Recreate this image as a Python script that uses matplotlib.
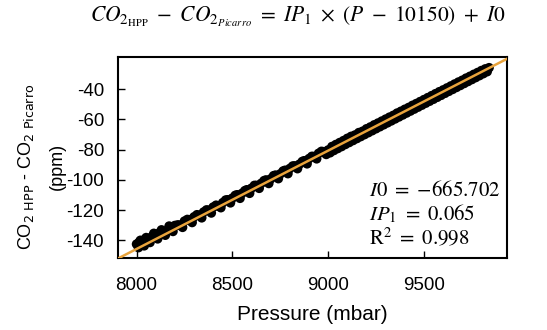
import matplotlib
matplotlib.use("Agg")
import matplotlib.pyplot as plt
import numpy as np

# Data
pressure_a = [8000, 8015, 8030, 8045, 8060, 8080, 8100, 8120, 8140, 8160, 8180, 8200, 8225, 8250, 8275,
              8300, 8325, 8350, 8375, 8400, 8425, 8450, 8475, 8500, 8525, 8550, 8575, 8600, 8625, 8650,
              8675, 8700, 8725, 8750, 8775, 8800, 8825, 8850, 8875, 8900, 8925, 8950, 8975, 9000, 9020,
              9040, 9060, 9080, 9100, 9120, 9140, 9160, 9180, 9200, 9220, 9240, 9260, 9280, 9300, 9320,
              9340, 9360, 9380, 9400, 9420, 9440, 9460, 9480, 9500, 9520, 9540, 9560, 9580, 9600, 9620,
              9640, 9660, 9680, 9700, 9720, 9740, 9760, 9780, 9800, 9820, 9840]
diff_a = [-142.5, -141.0, -140.2, -139.5, -138.9, -137.6, -136.1, -135.0, -134.2, -133.5, -131.6, -130.2,
          -130.0, -127.3, -126.4, -124.5, -123.4, -121.3, -120.1, -118.0, -117.4, -115.1, -113.2, -112.1,
          -109.9, -109.0, -106.6, -105.5, -103.7, -102.4, -100.1, -99.4, -96.9, -96.1, -93.7, -92.5, -90.8,
          -89.7, -87.4, -86.0, -84.6, -82.5, -81.4, -80.3, -78.0, -76.7, -75.4, -74.1, -72.6, -71.3, -70.4,
          -68.8, -67.9, -66.3, -65.1, -63.7, -62.5, -61.2, -59.9, -58.6, -57.4, -55.9, -54.7, -53.4, -52.2,
          -50.8, -49.6, -48.3, -47.0, -45.7, -44.4, -43.1, -41.8, -40.6, -39.3, -38.0, -36.7, -35.4, -34.2,
          -32.8, -31.6, -30.3, -29.1, -27.8, -26.7, -25.9]
pressure_b = [8010, 8040, 8070, 8110, 8150, 8190, 8240, 8290, 8340, 8390, 8440, 8490, 8540, 8590, 8640,
              8690, 8740, 8790, 8840, 8890, 8940, 8990, 9010, 9030, 9050, 9070, 9090, 9110, 9130, 9150,
              9170, 9190, 9210, 9230, 9250, 9270, 9290, 9310, 9330, 9350, 9370, 9390, 9410, 9430, 9450,
              9470, 9490, 9510, 9530, 9550, 9570, 9590, 9610, 9630, 9650, 9670, 9690, 9710, 9730, 9750,
              9770, 9790, 9810, 9830]
diff_b = [-144.8, -143.6, -141.4, -139.0, -136.6, -134.1, -131.4, -128.2, -125.1, -121.9, -118.4, -115.2,
          -112.2, -108.9, -105.6, -102.4, -99.2, -95.9, -92.6, -89.4, -86.1, -83.2, -82.1, -80.6, -79.3,
          -78.0, -76.6, -75.3, -74.0, -72.7, -71.4, -70.1, -68.8, -67.5, -66.2, -64.9, -63.6, -62.3, -61.0,
          -59.7, -58.4, -57.1, -55.8, -54.5, -53.2, -51.9, -50.6, -49.3, -48.0, -46.7, -45.4, -44.1, -42.8,
          -41.5, -40.2, -38.9, -37.6, -36.3, -35.0, -33.7, -32.4, -31.1, -29.8, -28.5]
pressure_c = [8020, 8050, 8090, 8130, 8170, 8215, 8265, 8315, 8365, 8415, 8465, 8515, 8565, 8615, 8665,
              8715, 8765, 8815, 8865, 8915, 8965, 9035, 9075, 9115, 9155, 9195, 9235, 9275, 9315, 9355,
              9395, 9435, 9475, 9515, 9555, 9595, 9635, 9675, 9715, 9755, 9795]
diff_c = [-140.0, -138.2, -135.4, -133.1, -130.6, -129.8, -126.2, -123.1, -119.9, -116.8, -113.4, -110.3,
          -107.2, -103.7, -100.6, -97.3, -94.2, -90.9, -87.9, -84.5, -81.2, -78.5, -75.9, -73.3, -70.7,
          -68.1, -65.5, -62.9, -60.3, -57.7, -55.1, -52.5, -49.9, -47.3, -44.7, -42.1, -39.5, -36.9,
          -34.3, -31.7, -29.1]

I0 = -665.702
IP1 = 0.065
R2 = 0.998

x_ticks = [8000, 8500, 9000, 9500]
y_ticks = [-40, -60, -80, -100, -120, -140]
x_lim = (7903, 9932)
y_lim = (-152, -19)

plt.rcParams['font.family'] = ['Liberation Sans', 'DejaVu Sans']
plt.rcParams['mathtext.fontset'] = 'stix'
plt.rcParams['axes.unicode_minus'] = False

fig = plt.figure(figsize=(5.47, 3.30), dpi=100)
ax = fig.add_axes([0.2157, 0.2167, 0.7106, 0.6097])

ms = 48
ax.scatter(pressure_a, diff_a, s=ms, c='black', edgecolors='none', zorder=2)
ax.scatter(pressure_b, diff_b, s=ms, c='black', edgecolors='none', zorder=2)
ax.scatter(pressure_c, diff_c, s=ms, c='black', edgecolors='none', zorder=2)

fit_x = np.array(x_lim)
ax.plot(fit_x, IP1 * fit_x + I0, color='#E8A33C', lw=1.8, zorder=3)

ax.set_xlim(*x_lim)
ax.set_ylim(*y_lim)
ax.set_xticks(x_ticks)
ax.set_yticks(y_ticks)
ax.tick_params(direction='in', length=5, width=1, labelsize=13.5)
ax.tick_params(axis='x', pad=13)
ax.tick_params(axis='y', pad=10)
for sp in ax.spines.values():
    sp.set_linewidth(1.5)
    sp.set_color('black')

ax.set_xlabel('Pressure (mbar)', fontsize=15, labelpad=8)
fig.text(0.047, 0.495, r'CO$_2$$_{\ \mathrm{HPP}}$ - CO$_2$$_{\ \mathrm{Picarro}}$',
         rotation=90, ha='center', va='center', fontsize=13,
         math_fontfamily='dejavusans')
fig.text(0.105, 0.495, '(ppm)', rotation=90, ha='center', va='center', fontsize=13)

fig.text(0.545, 0.95,
         r'$CO_{2_{\mathrm{HPP}}}\ -\ CO_{2_{Picarro}}\ =\ IP_1\ \times\ (P\ -\ 10150)\ +\ I0$',
         ha='center', va='center', fontsize=15.5)

ax.text(0.645, 0.34, r'$I0\ =\ {-}665.702$', transform=ax.transAxes, fontsize=15, va='center')
ax.text(0.645, 0.225, r'$IP_1\ =\ 0.065$', transform=ax.transAxes, fontsize=15, va='center')
ax.text(0.645, 0.105, r'$\mathrm{R}^2\ =\ 0.998$', transform=ax.transAxes, fontsize=15, va='center')

fig.savefig('out.png', dpi=100)
